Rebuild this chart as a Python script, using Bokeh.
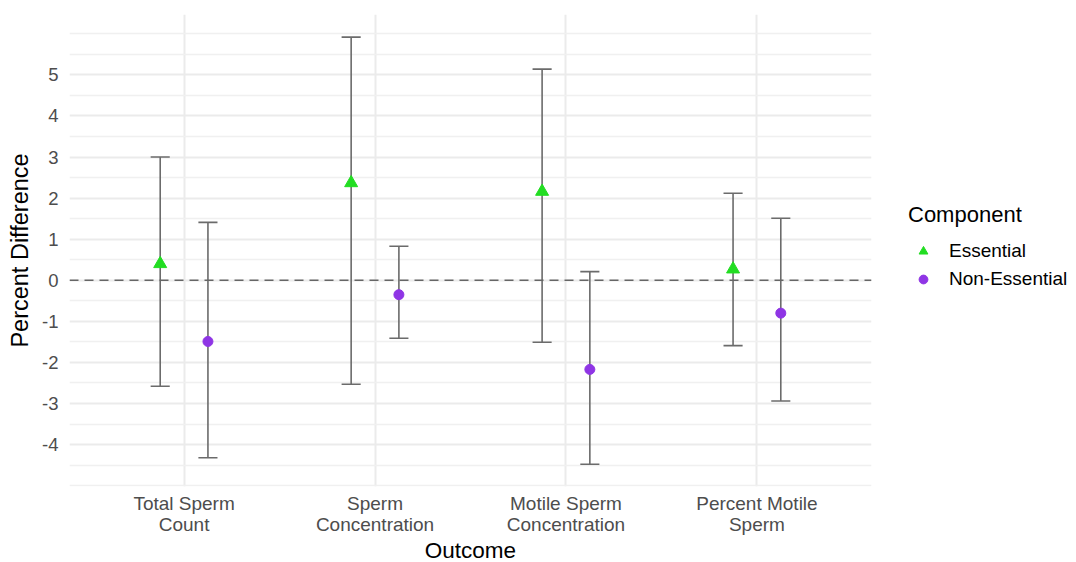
from bokeh.plotting import figure
from bokeh.models import (ColumnDataSource, FixedTicker, Legend, LegendItem, Span)
from bokeh.transform import dodge
from bokeh.embed import file_html
from bokeh.resources import INLINE

# ---- data ----
outcomes = ["Total Sperm\nCount", "Sperm\nConcentration", "Motile Sperm\nConcentration", "Percent Motile\nSperm"]
pos = [1, 2, 3, 4]

ess_est = [0.40, 2.37, 2.16, 0.27]
ess_low = [-2.58, -2.53, -1.51, -1.59]
ess_high = [3.00, 5.92, 5.14, 2.12]

non_est = [-1.49, -0.35, -2.17, -0.80]
non_low = [-4.32, -1.41, -4.48, -2.94]
non_high = [1.41, 0.83, 0.21, 1.51]

y_ticks = [-4, -3, -2, -1, 0, 1, 2, 3, 4, 5]
y_minor = [-5, -4.5, -3.5, -2.5, -1.5, -0.5, 0.5, 1.5, 2.5, 3.5, 4.5, 5.5, 6]

GREEN = "#22DD22"
PURPLE = "#8F35E5"
BAR = "#6B6B6B"
FONT = "Liberation Sans"

ess = ColumnDataSource(dict(x=pos, est=ess_est, low=ess_low, high=ess_high))
non = ColumnDataSource(dict(x=pos, est=non_est, low=non_low, high=non_high))

p = figure(frame_width=802, frame_height=472, output_backend="svg", toolbar_location=None,
           x_range=(0.4, 4.6), y_range=(-5.02, 6.47),
           min_border_left=69, min_border_right=204, min_border_top=14, min_border_bottom=70)
p.outline_line_color = None
p.background_fill_color = "white"
p.border_fill_color = "white"

# grid
p.xgrid.ticker = FixedTicker(ticks=pos)
p.xgrid.grid_line_color = "#EBEBEB"
p.xgrid.grid_line_width = 2
p.yaxis.ticker = FixedTicker(ticks=y_ticks, minor_ticks=y_minor)
p.ygrid.grid_line_color = "#EBEBEB"
p.ygrid.grid_line_width = 2
p.ygrid.minor_grid_line_color = "#F0F0F0"
p.ygrid.minor_grid_line_width = 1.5

# axes
p.xaxis.ticker = FixedTicker(ticks=pos)
p.xaxis.major_label_overrides = {k: v for k, v in zip(pos, outcomes)}
p.yaxis.major_label_overrides = {t: str(t) for t in y_ticks}
for ax in (p.xaxis, p.yaxis):
    ax.axis_line_color = None
    ax.major_tick_line_color = None
    ax.minor_tick_line_color = None
    ax.major_tick_in = 0
    ax.major_tick_out = 0
    ax.minor_tick_in = 0
    ax.minor_tick_out = 0
    ax.major_label_text_font = FONT
    ax.major_label_text_color = "#4D4D4D"
    ax.axis_label_text_font = FONT
    ax.axis_label_text_font_style = "normal"
    ax.axis_label_text_color = "black"
p.xaxis.major_label_text_font_size = "19px"
p.xaxis.major_label_text_line_height = 1.0
p.yaxis.major_label_text_font_size = "18.5px"
p.xaxis.axis_label = "Outcome"
p.yaxis.axis_label = "Percent Difference"
p.xaxis.axis_label_text_font_size = "22.5px"
p.yaxis.axis_label_text_font_size = "23.5px"
p.xaxis.major_label_standoff = 6
p.xaxis.axis_label_standoff = 0
p.yaxis.major_label_standoff = 11
p.yaxis.axis_label_standoff = 6

# zero line
p.add_layout(Span(location=0, dimension="width", line_color="#666666",
                  line_dash="9 6", line_width=1.6))

def draw(src, off, color, marker, size):
    p.segment(x0=dodge("x", off, range=p.x_range), y0="low",
              x1=dodge("x", off, range=p.x_range), y1="high",
              source=src, line_color=BAR, line_width=1.6)
    for yk in ("low", "high"):
        p.segment(x0=dodge("x", off - 0.05, range=p.x_range), y0=yk,
                  x1=dodge("x", off + 0.05, range=p.x_range), y1=yk,
                  source=src, line_color=BAR, line_width=1.6)
    return p.scatter(x=dodge("x", off, range=p.x_range), y="est", source=src,
                     marker=marker, size=size, fill_color=color, line_color=color)

r_ess = draw(ess, -0.125, GREEN, "triangle", 13)
r_non = draw(non, 0.125, PURPLE, "circle", 10)

legend = Legend(items=[LegendItem(label="Essential", renderers=[r_ess]),
                       LegendItem(label="Non-Essential", renderers=[r_non])],
                location=(37, 196), title="Component")
legend.title_text_font = FONT
legend.title_text_font_size = "22px"
legend.title_text_font_style = "normal"
legend.title_text_color = "black"
legend.title_standoff = 12
legend.label_text_font = FONT
legend.label_text_font_size = "19px"
legend.label_text_color = "black"
legend.border_line_color = None
legend.background_fill_alpha = 0
legend.glyph_width = 30
legend.glyph_height = 22
legend.label_standoff = 11
legend.spacing = 6
legend.padding = 8
legend.margin = 0
p.add_layout(legend, "right")

open("out.html", "w").write(file_html(p, INLINE))
